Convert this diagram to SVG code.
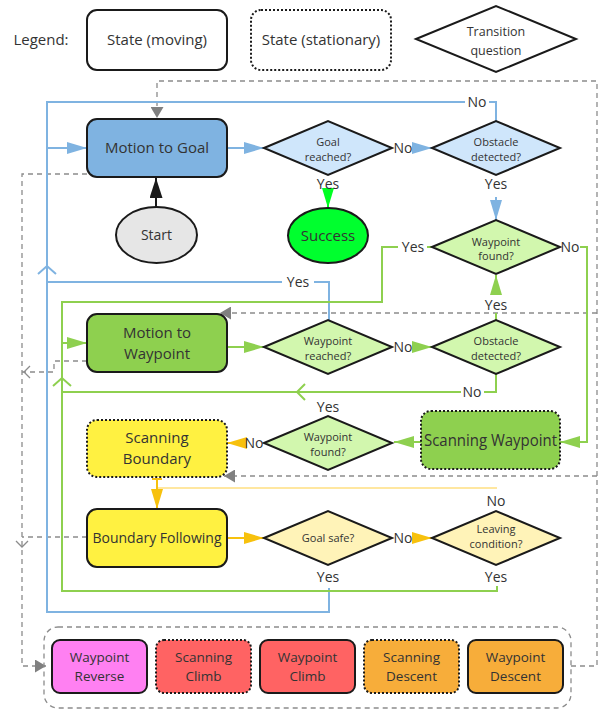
<svg xmlns="http://www.w3.org/2000/svg" width="598" height="711" viewBox="0 0 598 711">
<defs>
<style>
text{font-family:"Open Sans","Liberation Sans",sans-serif;fill:#333;text-anchor:middle}
.t15{font-size:15px}
.t14{font-size:14px}
.t11{font-size:11px}
.t13{font-size:13.5px}
.lbl{font-size:14px}
.box{stroke:#1a1a1a;stroke-width:2}
.dot{stroke-dasharray:2 2}
.dia{stroke:#1a1a1a;stroke-width:2}
.b{stroke:#7fb3e1;stroke-width:2;fill:none}
.g{stroke:#8ed04f;stroke-width:2;fill:none}
.y{stroke:#f7c10d;stroke-width:2;fill:none}
.py{stroke:#ffe7a0;stroke-width:2;fill:none}
.d{stroke:#8c8c8c;stroke-width:1.3;stroke-dasharray:5 4;fill:none}
.o{stroke:#8c8c8c;stroke-width:1.3;fill:none}
</style>
<marker id="ab" markerUnits="userSpaceOnUse" markerWidth="20" markerHeight="12" refX="20" refY="6" orient="auto"><path d="M0,0L20,6L0,12z" fill="#7fb3e1"/></marker>
<marker id="ag" markerUnits="userSpaceOnUse" markerWidth="20" markerHeight="12" refX="20" refY="6" orient="auto"><path d="M0,0L20,6L0,12z" fill="#8ed04f"/></marker>
<marker id="ay" markerUnits="userSpaceOnUse" markerWidth="20" markerHeight="12" refX="20" refY="6" orient="auto"><path d="M0,0L20,6L0,12z" fill="#f7c10d"/></marker>
<marker id="abg" markerUnits="userSpaceOnUse" markerWidth="20" markerHeight="12" refX="20" refY="6" orient="auto"><path d="M0,0L20,6L0,12z" fill="#00ff22"/></marker>
<marker id="ak" markerUnits="userSpaceOnUse" markerWidth="20" markerHeight="13" refX="20" refY="6.5" orient="auto"><path d="M0,0L20,6.5L0,13z" fill="#1a1a1a"/></marker>
<marker id="ad" markerUnits="userSpaceOnUse" markerWidth="11" markerHeight="13" refX="11" refY="6.5" orient="auto"><path d="M0,0L11,6.5L0,13z" fill="#808080"/></marker>
</defs>
<rect width="598" height="711" fill="#fff"/>

<g id="legend">
<text class="t15" x="41" y="45">Legend:</text>
<rect class="box" x="87" y="10" width="140" height="60" rx="10" fill="#fff"/>
<text class="t15" x="157" y="45">State (moving)</text>
<rect class="box dot" x="251" y="10" width="140" height="60" rx="10" fill="#fff"/>
<text class="t15" x="321" y="45">State (stationary)</text>
<polygon class="dia" points="416,39 496,6 576,39 496,72" fill="#fff"/>
<text style="font-size:12.5px" x="496" y="36">Transition</text>
<text style="font-size:12.5px" x="496" y="55">question</text>
</g>

<g id="connectors">
<!-- gray dashed -->
<path class="d" d="M571,666H597V81H157V118" marker-end="url(#ad)"/>
<path class="d" d="M597,313H220" marker-end="url(#ad)"/>
<path class="d" d="M597,476H224" marker-end="url(#ad)"/>
<path class="d" d="M87,174H22V666H46" marker-end="url(#ad)"/>
<path class="d" d="M87,361H54V372H22"/>
<polyline class="o" points="30,366 24,372 30,378"/>
<path class="d" d="M87,537H22"/>
<polyline class="o" points="16,541 22,547 28,541"/>
<!-- blue -->
<line class="b" x1="227" y1="148" x2="264" y2="148" marker-end="url(#ab)"/>
<line class="b" x1="412" y1="148" x2="432" y2="148" marker-end="url(#ab)"/>
<polyline class="b" points="496,121 496,102 489,102"/>
<polyline class="b" points="465,102 47,102 47,612 329,612 329,588"/>
<line class="b" x1="47" y1="148" x2="87" y2="148" marker-end="url(#ab)"/>
<line class="b" x1="47" y1="282" x2="282" y2="282"/>
<polyline class="b" points="314,282 329,282 329,320"/>
<polyline class="b" points="38,274 47,266 56,274"/>
<line class="b" x1="496" y1="197" x2="496" y2="220" marker-end="url(#ab)"/>
<!-- start / success -->
<line x1="156" y1="207" x2="156" y2="178" stroke="#1a1a1a" stroke-width="2" marker-end="url(#ak)"/>
<line x1="328" y1="190" x2="328" y2="208" stroke="#00ff22" stroke-width="2" marker-end="url(#abg)"/>
<!-- green -->
<line class="g" x1="227" y1="347" x2="264" y2="347" marker-end="url(#ag)"/>
<line class="g" x1="412" y1="347" x2="432" y2="347" marker-end="url(#ag)"/>
<polyline class="g" points="496,374 496,392 484,392"/>
<line class="g" x1="461" y1="392" x2="62" y2="392"/>
<polyline class="g" points="305,384 297,392 305,400"/>
<line class="g" x1="496" y1="313" x2="496" y2="321"/>
<line class="g" x1="496" y1="295" x2="496" y2="275" marker-end="url(#ag)"/>
<line class="g" x1="432" y1="247" x2="427" y2="247"/>
<polyline class="g" points="398,247 382,247 382,302 62,302 62,591 497,591 497,586"/>
<line class="g" x1="62" y1="343" x2="87" y2="343" marker-end="url(#ag)"/>
<polyline class="g" points="53,386 62,378 71,386"/>
<polyline class="g" points="580,247 587,247 587,442 560,442" marker-end="url(#ag)"/>
<line class="g" x1="421" y1="442" x2="394" y2="442" marker-end="url(#ag)"/>
<!-- yellow -->
<line class="y" x1="247" y1="443" x2="227" y2="443" marker-end="url(#ay)"/>
<line class="py" x1="157" y1="488" x2="497" y2="488"/>
<line class="y" x1="157" y1="478" x2="157" y2="509" marker-end="url(#ay)"/>
<line class="y" x1="152" y1="479" x2="162" y2="479"/>
<line class="y" x1="227" y1="538" x2="264" y2="538" marker-end="url(#ay)"/>
<line class="y" x1="412" y1="538" x2="432" y2="538" marker-end="url(#ay)"/>
<!-- labels -->
<text class="lbl" x="403" y="153">No</text>
<text class="lbl" x="328" y="189">Yes</text>
<text class="lbl" x="477" y="107">No</text>
<text class="lbl" x="496" y="189">Yes</text>
<text class="lbl" x="413" y="252">Yes</text>
<text class="lbl" x="570" y="252">No</text>
<text class="lbl" x="298" y="287">Yes</text>
<text class="lbl" x="496" y="310">Yes</text>
<text class="lbl" x="403" y="352">No</text>
<text class="lbl" x="472" y="397">No</text>
<text class="lbl" x="328" y="412">Yes</text>
<text class="lbl" x="254" y="448">No</text>
<text class="lbl" x="496" y="506">No</text>
<text class="lbl" x="403" y="543">No</text>
<text class="lbl" x="328" y="582">Yes</text>
<text class="lbl" x="496" y="582">Yes</text>
</g>

<g id="motion-to-goal">
<rect class="box" x="87" y="119" width="140" height="58" rx="10" fill="#7fb3e1"/>
<text class="t15" x="157" y="153">Motion to Goal</text>
</g>
<g id="start">
<ellipse class="box" cx="156.5" cy="235" rx="40.5" ry="28" fill="#e6e6e6"/>
<text class="t14" x="156.5" y="240">Start</text>
</g>
<g id="goal-reached">
<polygon class="dia" points="264,148 328,121 392,148 328,175" fill="#cfe6fb"/>
<text class="t11" x="328" y="146">Goal</text>
<text class="t11" x="328" y="161">reached?</text>
</g>
<g id="obstacle-detected-1">
<polygon class="dia" points="432,148 496,121 560,148 496,175" fill="#cfe6fb"/>
<text class="t11" x="496" y="146">Obstacle</text>
<text class="t11" x="496" y="161">detected?</text>
</g>
<g id="success">
<ellipse class="box" cx="328" cy="235.5" rx="40" ry="27.5" fill="#00ff2e"/>
<text class="t15" x="328" y="241">Success</text>
</g>
<g id="waypoint-found-1">
<polygon class="dia" points="432,247 496,220 560,247 496,274" fill="#d2f7ae"/>
<text class="t11" x="496" y="246">Waypoint</text>
<text class="t11" x="496" y="260">found?</text>
</g>
<g id="motion-to-waypoint">
<rect class="box" x="87" y="314" width="140" height="58" rx="10" fill="#8ed04f"/>
<text class="t15" x="157" y="337.5">Motion to</text>
<text class="t15" x="157" y="358.5">Waypoint</text>
</g>
<g id="waypoint-reached">
<polygon class="dia" points="264,347 328,320 392,347 328,374" fill="#d2f7ae"/>
<text class="t11" x="328" y="345">Waypoint</text>
<text class="t11" x="328" y="360">reached?</text>
</g>
<g id="obstacle-detected-2">
<polygon class="dia" points="432,347 496,320 560,347 496,374" fill="#d2f7ae"/>
<text class="t11" x="496" y="345">Obstacle</text>
<text class="t11" x="496" y="360">detected?</text>
</g>
<g id="scanning-boundary">
<rect class="box dot" x="87" y="420" width="140" height="57" rx="10" fill="#fff141"/>
<text class="t15" x="157" y="443">Scanning</text>
<text class="t15" x="157" y="464">Boundary</text>
</g>
<g id="waypoint-found-2">
<polygon class="dia" points="264,443 328,416 392,443 328,470" fill="#d2f7ae"/>
<text class="t11" x="328" y="441">Waypoint</text>
<text class="t11" x="328" y="456">found?</text>
</g>
<g id="scanning-waypoint">
<rect class="box dot" x="421" y="411" width="139" height="58" rx="10" fill="#8ed04f"/>
<text x="490.5" y="446" style="font-size:16.5px" textLength="133" lengthAdjust="spacingAndGlyphs">Scanning Waypoint</text>
</g>
<g id="boundary-following">
<rect class="box" x="87" y="509" width="140" height="58" rx="10" fill="#fff141"/>
<text class="t14" x="157" y="543">Boundary Following</text>
</g>
<g id="goal-safe">
<polygon class="dia" points="264,538 328,511 392,538 328,565" fill="#fff3b8"/>
<text class="t11" x="328" y="542">Goal safe?</text>
</g>
<g id="leaving-condition">
<polygon class="dia" points="432,538 496,511 560,538 496,565" fill="#fff3b8"/>
<text class="t11" x="496" y="533">Leaving</text>
<text class="t11" x="496" y="548">condition?</text>
</g>

<g id="special-states">
<rect class="d" x="44" y="627" width="527" height="81" rx="14"/>
<g id="waypoint-reverse">
<rect class="box" x="52" y="640" width="95" height="53" rx="8" fill="#ff80f2"/>
<text class="t13" x="99.5" y="662">Waypoint</text>
<text class="t13" x="99.5" y="681">Reverse</text>
</g>
<g id="scanning-climb">
<rect class="box dot" x="156" y="640" width="95" height="53" rx="8" fill="#ff6363"/>
<text class="t13" x="203.5" y="662">Scanning</text>
<text class="t13" x="203.5" y="681">Climb</text>
</g>
<g id="waypoint-climb">
<rect class="box" x="260" y="640" width="95" height="53" rx="8" fill="#ff6363"/>
<text class="t13" x="307.5" y="662">Waypoint</text>
<text class="t13" x="307.5" y="681">Climb</text>
</g>
<g id="scanning-descent">
<rect class="box dot" x="364" y="640" width="95" height="53" rx="8" fill="#f7ad3a"/>
<text class="t13" x="411.5" y="662">Scanning</text>
<text class="t13" x="411.5" y="681">Descent</text>
</g>
<g id="waypoint-descent">
<rect class="box" x="468" y="640" width="95" height="53" rx="8" fill="#f7ad3a"/>
<text class="t13" x="515.5" y="662">Waypoint</text>
<text class="t13" x="515.5" y="681">Descent</text>
</g>
</g>
</svg>
